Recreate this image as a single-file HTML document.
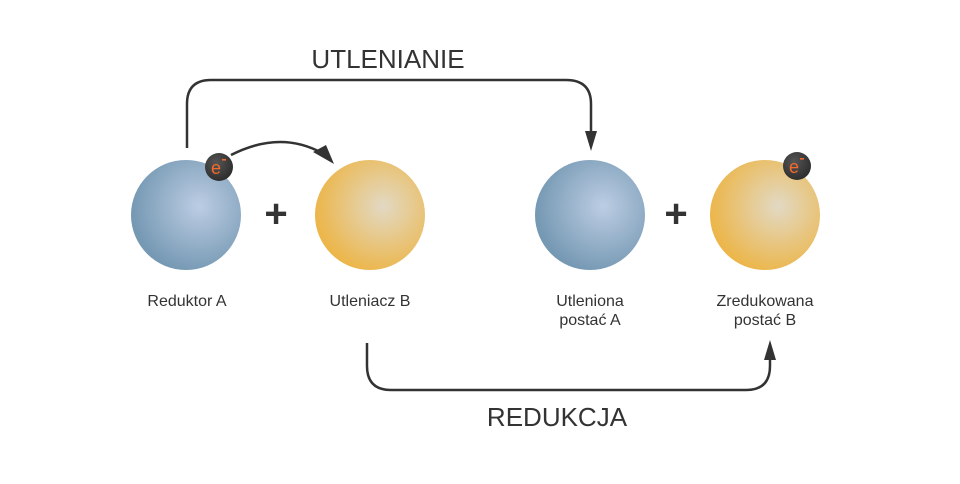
<!DOCTYPE html>
<html><head><style>body{margin:0;background:#fff}</style></head><body>
<svg width="960" height="479" viewBox="0 0 960 479" xmlns="http://www.w3.org/2000/svg" font-family="'Liberation Sans', sans-serif">
<defs>
<radialGradient id="bl" cx="0.62" cy="0.42" r="0.62"><stop offset="0" stop-color="#bccde3"/><stop offset="1" stop-color="#7598b3"/></radialGradient>
<radialGradient id="or" cx="0.62" cy="0.42" r="0.62"><stop offset="0" stop-color="#e2d9c4"/><stop offset="1" stop-color="#ecb64a"/></radialGradient>
<radialGradient id="el" cx="0.4" cy="0.35" r="0.7"><stop offset="0" stop-color="#555"/><stop offset="1" stop-color="#2b2b2b"/></radialGradient>
</defs>
<g fill="none" stroke="#333" stroke-width="2.5">
<path d="M187 148 V104 Q187 80 211 80 H566 Q591 80 591 104 V134"/>
<path d="M367 343 V366 Q367 390 391 390 H746 Q770 390 770 366 V358"/>
<path d="M231 155 Q280 130 322 153"/>
</g>
<g fill="#333">
<polygon points="585,131 597,131 591,151"/>
<polygon points="764,360 776,360 770,340"/>
<polygon points="313,152 326,145 334,164"/>
</g>
<circle cx="186" cy="215" r="55" fill="url(#bl)"/>
<circle cx="370" cy="215" r="55" fill="url(#or)"/>
<circle cx="590" cy="215" r="55" fill="url(#bl)"/>
<circle cx="765" cy="215" r="55" fill="url(#or)"/>
<circle cx="219" cy="167" r="14" fill="url(#el)"/>
<circle cx="797" cy="166" r="14" fill="url(#el)"/>
<g fill="#f26a2c" font-size="18"><text x="211" y="174">e</text><text x="789" y="173">e</text></g>
<g fill="#f26a2c"><rect x="222" y="159" width="4" height="1.6"/><rect x="800" y="158" width="4" height="1.6"/></g>
<g fill="#333" font-size="40" font-weight="bold" text-anchor="middle"><text x="276" y="227">+</text><text x="676" y="227">+</text></g>
<g fill="#333" font-size="16" text-anchor="middle">
<text x="187" y="306">Reduktor A</text>
<text x="370" y="306">Utleniacz B</text>
<text x="590" y="306">Utleniona</text><text x="590" y="325">postać A</text>
<text x="765" y="306">Zredukowana</text><text x="765" y="325">postać B</text>
</g>
<g fill="#333" font-size="26" text-anchor="middle">
<text x="388" y="68">UTLENIANIE</text>
<text x="557" y="426">REDUKCJA</text>
</g>
</svg>
</body></html>
